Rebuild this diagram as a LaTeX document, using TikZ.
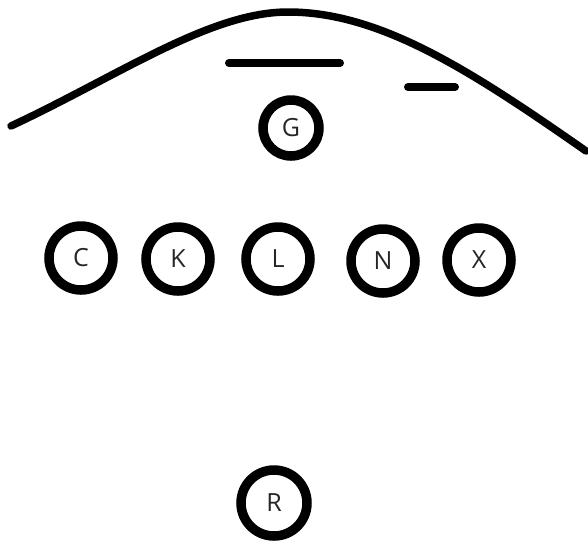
\documentclass[tikz,border=0pt]{standalone}
\usepackage{fontspec}
\setmainfont{Open Sans}
\begin{document}
\begin{tikzpicture}[x=1pt,y=-1pt,
  player/.style={circle,draw=black,line width=9.5pt,minimum size=64pt,inner sep=0pt,
    font=\fontsize{25}{29}\selectfont,text=black!85},
  mark line/.style={line width=8pt,line cap=round}]
  \useasboundingbox (0,0) rectangle (588,542);
  % boundary arc
  \draw[line width=7.5pt,line cap=round]
    (11,126) .. controls (120,75) and (210,12) .. (288,12)
             .. controls (380,12) and (470,70) .. (586,151);
  % short bars under the arc
  \draw[mark line] (229,63) -- (340,63);
  \draw[mark line] (408,87) -- (455,87);
  % players
  \node[player,minimum size=56pt] (G) at (291,128) {G};
  \node[player] (C) at (81,258) {C};
  \node[player] (K) at (178,259) {K};
  \node[player] (L) at (278,259) {L};
  \node[player] (N) at (383,261) {N};
  \node[player] (X) at (479,260) {X};
  \node[player,minimum size=66pt] (R) at (274,503) {R};
\end{tikzpicture}
\end{document}
